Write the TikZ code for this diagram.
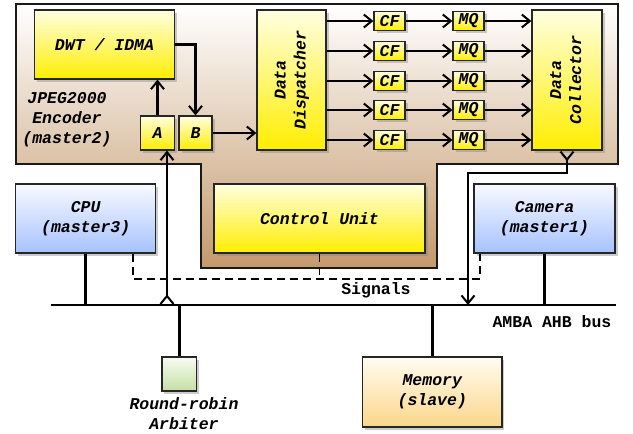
\documentclass[tikz,border=0pt]{standalone}
\usepackage{fontspec}
\setmonofont{Liberation Mono}
\usetikzlibrary{arrows.meta,shadows}

\definecolor{encTop}{HTML}{FFFFFF}
\definecolor{encBot}{HTML}{C4996C}
\definecolor{ylwTop}{HTML}{FFFFE0}
\definecolor{ylwBot}{HTML}{FFEE00}
\definecolor{bluTop}{HTML}{F8FAFF}
\definecolor{bluBot}{HTML}{A6C2FF}
\definecolor{grnTop}{HTML}{F8FBF4}
\definecolor{grnBot}{HTML}{C4E0A4}
\definecolor{orgTop}{HTML}{FFFCF0}
\definecolor{orgBot}{HTML}{FCD68A}

\newcommand{\blockfont}{\fontsize{16.5}{20}\selectfont\ttfamily\bfseries\itshape}
\newcommand{\plainfont}{\fontsize{16.5}{20}\selectfont\ttfamily\bfseries}

\tikzset{
  block/.style={draw=black!85, line width=1.2pt, inner sep=0pt, align=center,
    font=\blockfont,
    drop shadow={shadow xshift=2.5pt, shadow yshift=-2.5pt, opacity=0.4}},
  hw/.style={block, top color=ylwTop, bottom color=ylwBot},
  master/.style={block, top color=bluTop, bottom color=bluBot},
  small/.style={hw, minimum width=31, minimum height=19},
  txt/.style={align=center, font=\blockfont, inner sep=0pt},
  wire/.style={line width=2.5pt},
  flow/.style={wire, ->},
  sig/.style={line width=1.2pt, dash pattern=on 8pt off 5pt},
  >={Straight Barb[length=8pt,width=13pt,line width=2pt]}
}

\begin{document}
\begin{tikzpicture}[x=1pt,y=-1pt]
  \useasboundingbox (0,0) rectangle (633,434);

  % Encoder frame
  \shade[top color=encTop, bottom color=encBot]
    (16,4) -- (618,4) -- (618,164) -- (437,164) -- (437,268)
    -- (201,268) -- (201,164) -- (16,164) -- cycle;
  \draw[black!90, line width=1.2pt]
    (16,4) -- (618,4) -- (618,164) -- (437,164) -- (437,268)
    -- (201,268) -- (201,164) -- (16,164) -- cycle;
  \node[txt] (enc) at (67,120) {JPEG2000\\Encoder\\(master2)};

  % Encoder blocks
  \node[hw, minimum width=139.6, minimum height=69] (dwt) at (104.5,44.5) {DWT / IDMA};
  \node[hw, minimum width=33.6, minimum height=34] (A) at (157.5,133) {A};
  \node[hw, minimum width=33, minimum height=34] (B) at (195.5,133) {B};
  \node[hw, minimum width=69, minimum height=140] (disp) at (291.5,80)
    {\rotatebox{90}{\begin{tabular}{@{}c@{}}Data\\Dispatcher\end{tabular}}};
  \node[hw, minimum width=70, minimum height=140] (coll) at (567,80)
    {\rotatebox{90}{\begin{tabular}{@{}c@{}}Data\\Collector\end{tabular}}};
  \node[hw, minimum width=211, minimum height=69] (ctrl) at (319.5,218.5) {Control Unit};

  % Coding lanes
  \foreach \y [count=\i] in {21,51,81,110,140} {
    \node[small] (cf\i) at (389.5,\y) {CF};
    \node[small] (mq\i) at (468.5,\y) {MQ};
    \draw[flow] (disp.east |- cf\i) -- (cf\i);
    \draw[flow] (cf\i) -- (mq\i);
    \draw[flow] (mq\i) -- (coll.west |- mq\i);
  }

  % Encoder internal paths
  \draw[flow] (A.north) -- (A.north |- dwt.south);
  \draw[flow] (dwt.east) -| (B.north);
  \draw[flow] (B.east) -- (disp.west |- B.east);

  % Masters and slave
  \node[master, minimum width=140, minimum height=69] (cpu) at (85.7,218.5) {CPU\\(master3)};
  \node[master, minimum width=141, minimum height=69] (cam) at (544.5,218.5) {Camera\\(master1)};
  \node[block, top color=orgTop, bottom color=orgBot, minimum width=139.3, minimum height=70]
    (mem) at (432.3,392) {Memory\\(slave)};
  \node[block, top color=grnTop, bottom color=grnBot, minimum width=34.7, minimum height=34]
    (arb) at (179.3,374) {};
  \node[txt] (arbtxt) at (184,414) {Round-robin\\Arbiter};

  % Bus
  \coordinate (busL) at (51,305);
  \coordinate (busR) at (616,305);
  \draw[line width=2.8pt] (busL) -- (busR);
  \node[txt, font=\plainfont] (bus) at (552,322) {AMBA AHB bus};

  \draw[wire] (cpu.south) -- (cpu.south |- busL);
  \draw[wire] (cam.south) -- (cam.south |- busL);
  \draw[wire] (mem.north) -- (mem.north |- busL);
  \draw[wire] (arb.north) -- (arb.north |- busL);

  % Bus ports of the encoder
  \coordinate (tapA) at (167,305);
  \coordinate (turn) at (468,173);
  \coordinate (tapC) at (468,305);
  \draw[wire, >->] (tapA) -- (tapA |- A.south);
  \draw[wire, >->] (coll.south) |- (turn) -- (tapC);

  % Signals
  \coordinate (sigL) at (133,279);
  \coordinate (sigR) at (480,279);
  \draw[sig] (sigL |- cpu.south) -- (sigL) -- (sigR) -- (sigR |- cam.south);
  \draw[sig] (ctrl.south) -- (ctrl.south |- sigL);
  \node[txt, font=\plainfont] (signals) at (376,290) {Signals};
\end{tikzpicture}
\end{document}
